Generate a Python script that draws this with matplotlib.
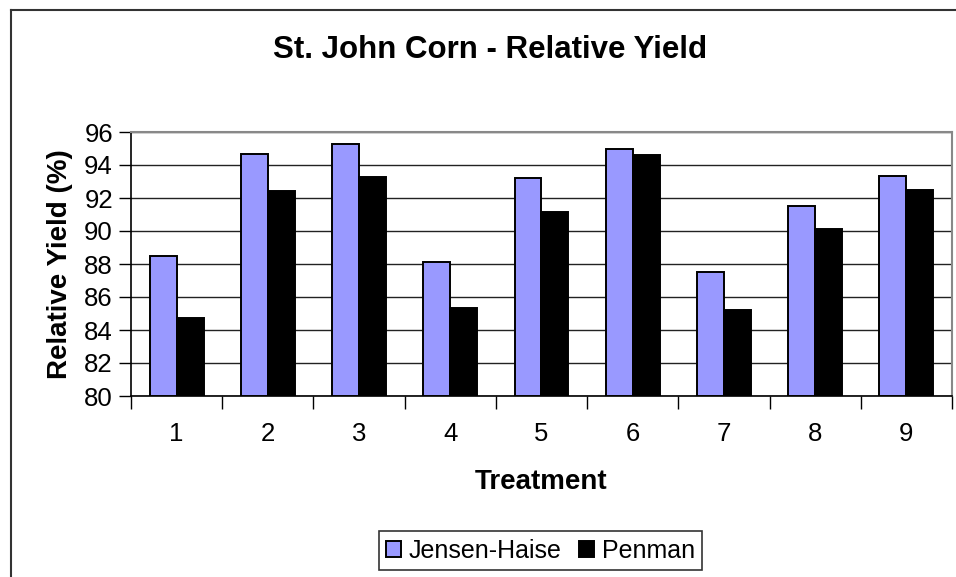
import matplotlib
matplotlib.use("Agg")
import matplotlib.pyplot as plt
import numpy as np
from matplotlib.lines import Line2D

treatments = ["1", "2", "3", "4", "5", "6", "7", "8", "9"]
jensen_haise = [88.5, 94.67, 95.27, 88.1, 93.2, 95.0, 87.5, 91.5, 93.33]
penman = [84.75, 92.4, 93.25, 85.35, 91.17, 94.6, 85.2, 90.1, 92.5]
yticks = [80, 82, 84, 86, 88, 90, 92, 94, 96]

plt.rcParams['font.family'] = ['Liberation Sans', 'DejaVu Sans']

W, H = 956, 577
fig = plt.figure(figsize=(W / 100, H / 100), dpi=100)
ax = fig.add_axes([131 / W, 1 - 396 / H, (952 - 131) / W, (396 - 132) / H])

x = np.arange(1, len(treatments) + 1)
bw = 0.295
ax.bar(x - bw / 2, np.array(jensen_haise) - 80, bw, bottom=80, color='#9999ff',
       edgecolor='black', linewidth=1.4, label='Jensen-Haise', zorder=3)
ax.bar(x + bw / 2, np.array(penman) - 80, bw, bottom=80, color='black',
       edgecolor='black', linewidth=1.4, label='Penman', zorder=3)

ax.set_xlim(0.5, len(treatments) + 0.5)
ax.set_ylim(80, 96)
ax.set_yticks(yticks)
ax.set_yticklabels([str(v) for v in yticks], fontsize=18.5)
ax.yaxis.grid(True, color='#222222', linewidth=1.0, zorder=0)
ax.set_axisbelow(True)

ax.set_xticks(x)
ax.set_xticklabels(treatments, fontsize=18.5)
ax.tick_params(axis='x', which='major', length=0, pad=19)
ax.set_xticks(np.arange(0.5, len(treatments) + 1.0, 1.0), minor=True)
ax.tick_params(axis='x', which='minor', length=9, width=1, color='black', direction='out')
ax.tick_params(axis='y', length=9, width=1, color='black', direction='out', pad=4)

for s in ['top', 'right']:
    ax.spines[s].set_color('#888888')
    ax.spines[s].set_linewidth(1.5)
for s in ['left', 'bottom']:
    ax.spines[s].set_color('black')
    ax.spines[s].set_linewidth(1.2)

ax.set_xlabel('Treatment', fontsize=20, fontweight='bold', labelpad=16)
ax.set_ylabel('Relative Yield (%)', fontsize=20, fontweight='bold', labelpad=8)

fig.text(490 / W, 1 - 50 / H, 'St. John Corn - Relative Yield', fontsize=22.5,
         fontweight='bold', ha='center', va='center')

leg = fig.legend(loc='center', bbox_to_anchor=(540.5 / W, 1 - 550.5 / H), ncol=2,
                 fontsize=18, frameon=True, fancybox=False, handlelength=0.6,
                 handleheight=0.6, handletextpad=0.3, columnspacing=0.7,
                 borderpad=0.3, edgecolor='black')
leg.get_frame().set_linewidth(1.2)

fig.add_artist(Line2D([11 / W, 11 / W], [0, 1 - 10 / H], transform=fig.transFigure,
                      color='#333333', linewidth=1.5))
fig.add_artist(Line2D([11 / W, 1], [1 - 10 / H, 1 - 10 / H], transform=fig.transFigure,
                      color='#333333', linewidth=1.5))

fig.savefig('out.png', dpi=100)
